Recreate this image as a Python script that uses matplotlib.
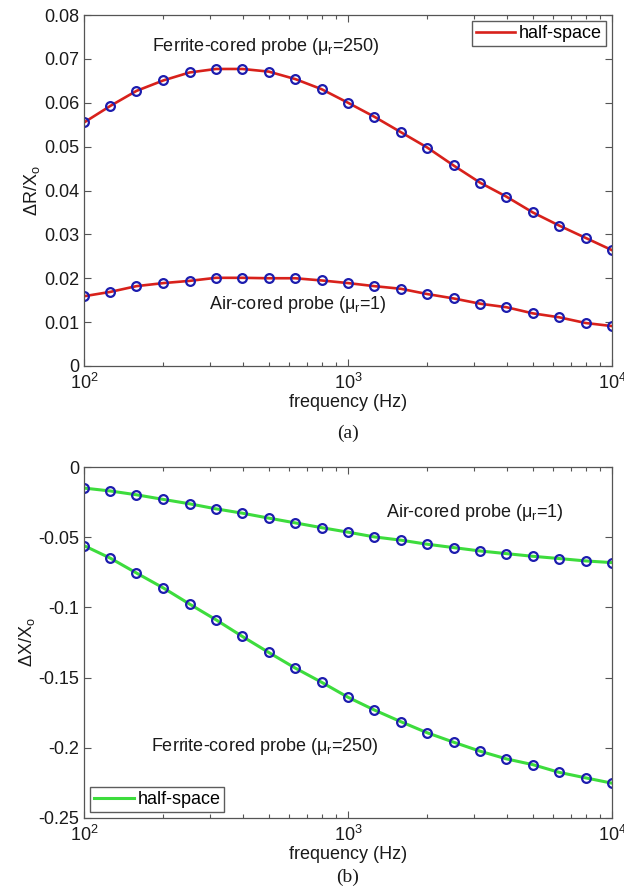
import matplotlib
matplotlib.use("Agg")
import matplotlib.pyplot as plt
from matplotlib.ticker import FuncFormatter, LogLocator, FixedLocator, NullFormatter

plt.rcParams['font.family'] = ['Liberation Sans', 'DejaVu Sans']
plt.rcParams['mathtext.fontset'] = 'custom'
plt.rcParams['mathtext.rm'] = 'Liberation Sans'
plt.rcParams['mathtext.it'] = 'Liberation Sans:italic'
plt.rcParams['mathtext.bf'] = 'Liberation Sans:bold'
plt.rcParams['axes.unicode_minus'] = False

freq = [100, 126, 158, 200, 251, 316, 398, 501, 631, 794, 1000,
        1259, 1585, 1995, 2512, 3162, 3981, 5012, 6310, 7943, 10000]

dR_ferrite = [0.0555, 0.0593, 0.0627, 0.0651, 0.0669, 0.0677, 0.0677, 0.0671,
              0.0654, 0.0631, 0.0600, 0.0568, 0.0533, 0.0498, 0.0457, 0.0418,
              0.0386, 0.0350, 0.0320, 0.0292, 0.0264]
dR_air = [0.0159, 0.0169, 0.0182, 0.0189, 0.0194, 0.0201, 0.0201, 0.0200,
          0.0200, 0.0195, 0.0189, 0.0182, 0.0176, 0.0164, 0.0154, 0.0142,
          0.0134, 0.0120, 0.0111, 0.0098, 0.0091]

dX_air = [-0.0150, -0.0171, -0.0198, -0.0231, -0.0262, -0.0298, -0.0329, -0.0364,
          -0.0398, -0.0432, -0.0464, -0.0498, -0.0521, -0.0550, -0.0574, -0.0598,
          -0.0617, -0.0636, -0.0652, -0.0669, -0.0681]
dX_ferrite = [-0.0560, -0.0650, -0.0755, -0.0862, -0.0976, -0.1088, -0.1207, -0.1321,
              -0.1432, -0.1533, -0.1640, -0.1731, -0.1814, -0.1893, -0.1960, -0.2024,
              -0.2079, -0.2120, -0.2175, -0.2214, -0.2252]

yticks_a = [0, 0.01, 0.02, 0.03, 0.04, 0.05, 0.06, 0.07, 0.08]
yticks_b = [-0.25, -0.2, -0.15, -0.1, -0.05, 0]

RED = '#d8211b'
GREEN = '#3ddc3d'
BLUE = '#1c1cae'
AXC = '#555555'
TXT = '#1a1a1a'

W, H = 624, 894
fig = plt.figure(figsize=(W / 100, H / 100), dpi=100)
left, right = 84 / W, 612 / W
ax_a = fig.add_axes([left, 1 - 366 / H, right - left, 351 / H])
ax_b = fig.add_axes([left, 1 - 818 / H, right - left, 351 / H])

fmt = FuncFormatter(lambda v, p: ('%g' % round(v, 4)))

def style(ax, yticks, ylabel):
    ax.set_xscale('log')
    ax.set_xlim(100, 10000)
    ax.set_ylim(yticks[0], yticks[-1])
    ax.set_yticks(yticks)
    ax.yaxis.set_major_formatter(fmt)
    ax.xaxis.set_major_locator(FixedLocator([100, 1000, 10000]))
    ax.xaxis.set_minor_locator(LogLocator(base=10, subs=range(2, 10)))
    ax.xaxis.set_minor_formatter(NullFormatter())
    ax.tick_params(which='both', direction='in', top=True, right=True,
                   color=AXC, labelcolor=TXT, labelsize=13)
    ax.tick_params(which='major', length=5, width=0.8)
    ax.tick_params(which='minor', length=3, width=0.8)
    ax.tick_params(axis='x', pad=5)
    for s in ax.spines.values():
        s.set_color(AXC)
        s.set_linewidth(0.9)
    ax.set_xlabel('frequency (Hz)', fontsize=13, color=TXT, labelpad=1)
    ax.set_ylabel(ylabel, fontsize=13, color=TXT, labelpad=1)

# panel (a)
l1, = ax_a.plot(freq, dR_ferrite, color=RED, lw=1.9, label='half-space')
ax_a.plot(freq, dR_air, color=RED, lw=1.9)
ax_a.plot(freq, dR_ferrite, 'o', ms=6.3, mfc='none', mec=BLUE, mew=1.6)
ax_a.plot(freq, dR_air, 'o', ms=6.3, mfc='none', mec=BLUE, mew=1.6)
style(ax_a, yticks_a, r'$\Delta$R/X$_\mathrm{o}$')
ax_a.legend(handles=[l1], loc='upper right', fontsize=13, frameon=True, fancybox=False,
            edgecolor='#333333', handlelength=2.2, handletextpad=0.2, borderpad=0.2,
            borderaxespad=0.35)
ax_a.text(0.129, 0.909, r'Ferrite-cored probe (μ$_\mathrm{r}$=250)', transform=ax_a.transAxes,
          ha='left', va='center', fontsize=13, color=TXT)
ax_a.text(0.237, 0.174, r'Air-cored probe (μ$_\mathrm{r}$=1)', transform=ax_a.transAxes,
          ha='left', va='center', fontsize=13, color=TXT)

# panel (b)
l2, = ax_b.plot(freq, dX_air, color=GREEN, lw=2.2, label='half-space')
ax_b.plot(freq, dX_ferrite, color=GREEN, lw=2.2)
ax_b.plot(freq, dX_air, 'o', ms=6.3, mfc='none', mec=BLUE, mew=1.6)
ax_b.plot(freq, dX_ferrite, 'o', ms=6.3, mfc='none', mec=BLUE, mew=1.6)
style(ax_b, yticks_b, r'$\Delta$X/X$_\mathrm{o}$')
ax_b.legend(handles=[l2], loc='lower left', fontsize=13, frameon=True, fancybox=False,
            edgecolor='#333333', handlelength=2.2, handletextpad=0.2, borderpad=0.2,
            borderaxespad=0.35)
ax_b.text(0.572, 0.870, r'Air-cored probe (μ$_\mathrm{r}$=1)', transform=ax_b.transAxes,
          ha='left', va='center', fontsize=13, color=TXT)
ax_b.text(0.127, 0.205, r'Ferrite-cored probe (μ$_\mathrm{r}$=250)', transform=ax_b.transAxes,
          ha='left', va='center', fontsize=13, color=TXT)

fig.text(348 / W, 1 - 433 / H, '(a)', ha='center', va='center', fontsize=14,
         family='Liberation Serif', color=TXT)
fig.text(348 / W, 1 - 877 / H, '(b)', ha='center', va='center', fontsize=14,
         family='Liberation Serif', color=TXT)

fig.savefig('out.png', dpi=100, facecolor='white')
